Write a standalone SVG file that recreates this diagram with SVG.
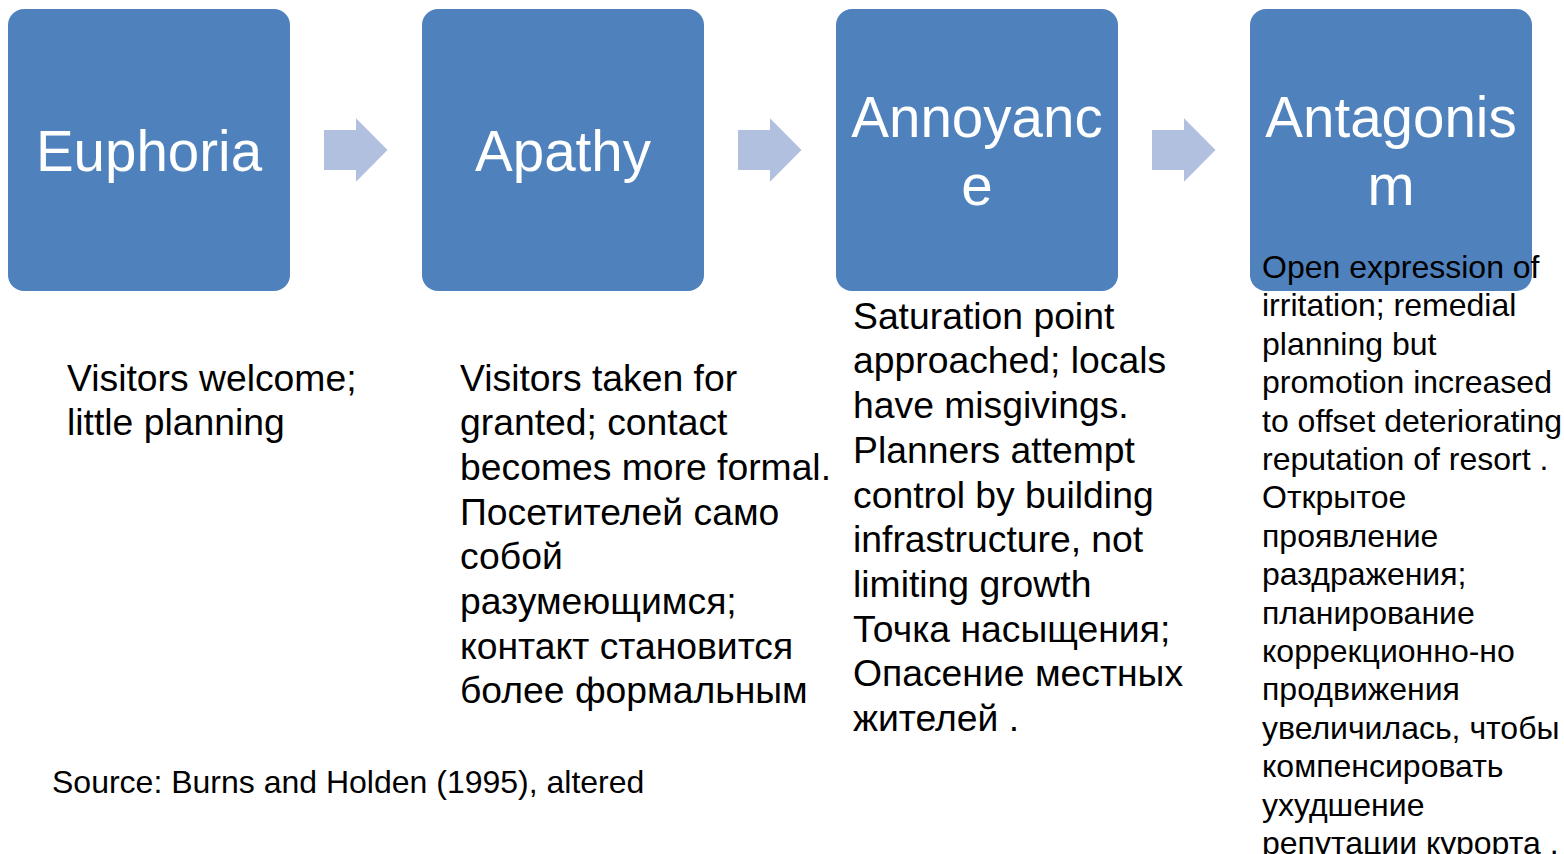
<svg xmlns="http://www.w3.org/2000/svg" width="1564" height="854" viewBox="0 0 1564 854">
<style>
.box{fill:#4F81BD}
.arr{fill:#B0C0DE}
.title{font-family:"Liberation Sans",Arial,sans-serif;font-size:56.5px;fill:#FFFFFF;text-anchor:middle}
.desc{font-family:"Liberation Sans",Arial,sans-serif;font-size:37.3px;fill:#000000}
.small{font-family:"Liberation Sans",Arial,sans-serif;font-size:32px;fill:#000000}
</style>
<defs>
<path id="arrow" d="M0,-20 L32,-20 L32,-31.7 L63.5,0 L32,31.7 L32,20 L0,20 Z"/>
</defs>
<rect width="1564" height="854" fill="#FFFFFF"/>
<g id="connectors">
<use href="#arrow" class="arr" x="324" y="150"/>
<use href="#arrow" class="arr" x="738" y="150"/>
<use href="#arrow" class="arr" x="1152" y="150"/>
</g>
<g id="node-euphoria">
<rect class="box" x="8" y="9" width="282" height="282" rx="16"/>
<text class="title" x="149" y="171">Euphoria</text>
<text class="desc" x="67" y="390.5">Visitors welcome;</text>
<text class="desc" x="67" y="435.2">little planning</text>
</g>
<g id="node-apathy">
<rect class="box" x="422" y="9" width="282" height="282" rx="16"/>
<text class="title" x="563" y="171">Apathy</text>
<text class="desc" x="460">
<tspan x="460" y="390.5">Visitors taken for</tspan>
<tspan x="460" y="435.2">granted; contact</tspan>
<tspan x="460" y="479.9">becomes more formal.</tspan>
<tspan x="460" y="524.6">Посетителей само</tspan>
<tspan x="460" y="569.3">собой</tspan>
<tspan x="460" y="614">разумеющимся;</tspan>
<tspan x="460" y="658.7">контакт становится</tspan>
<tspan x="460" y="703.4">более формальным</tspan>
</text>
</g>
<g id="node-annoyance">
<rect class="box" x="836" y="9" width="282" height="282" rx="16"/>
<text class="title" x="977" y="136.7">Annoyanc</text>
<text class="title" x="977" y="204.5">e</text>
<text class="desc">
<tspan x="853" y="328.7">Saturation point</tspan>
<tspan x="853" y="373.4">approached; locals</tspan>
<tspan x="853" y="418.1">have misgivings.</tspan>
<tspan x="853" y="462.8">Planners attempt</tspan>
<tspan x="853" y="507.5">control by building</tspan>
<tspan x="853" y="552.2">infrastructure, not</tspan>
<tspan x="853" y="596.9">limiting growth</tspan>
<tspan x="853" y="641.6">Точка насыщения;</tspan>
<tspan x="853" y="686.3">Опасение местных</tspan>
<tspan x="853" y="731">жителей .</tspan>
</text>
</g>
<g id="node-antagonism">
<rect class="box" x="1250" y="9" width="282" height="282" rx="16"/>
<text class="title" x="1391" y="136.7">Antagonis</text>
<text class="title" x="1391" y="204.5">m</text>
<text class="small">
<tspan x="1262" y="278">Open expression of</tspan>
<tspan x="1262" y="316.4">irritation; remedial</tspan>
<tspan x="1262" y="354.8">planning but</tspan>
<tspan x="1262" y="393.2">promotion increased</tspan>
<tspan x="1262" y="431.6">to offset deteriorating</tspan>
<tspan x="1262" y="470">reputation of resort .</tspan>
<tspan x="1262" y="508.4">Открытое</tspan>
<tspan x="1262" y="546.8">проявление</tspan>
<tspan x="1262" y="585.2">раздражения;</tspan>
<tspan x="1262" y="623.6">планирование</tspan>
<tspan x="1262" y="662">коррекционно-но</tspan>
<tspan x="1262" y="700.4">продвижения</tspan>
<tspan x="1262" y="738.8">увеличилась, чтобы</tspan>
<tspan x="1262" y="777.2">компенсировать</tspan>
<tspan x="1262" y="815.6">ухудшение</tspan>
<tspan x="1262" y="854">репутации курорта .</tspan>
</text>
</g>
<g id="source">
<text class="small" x="52" y="792.5">Source: Burns and Holden (1995), altered</text>
</g>
</svg>
